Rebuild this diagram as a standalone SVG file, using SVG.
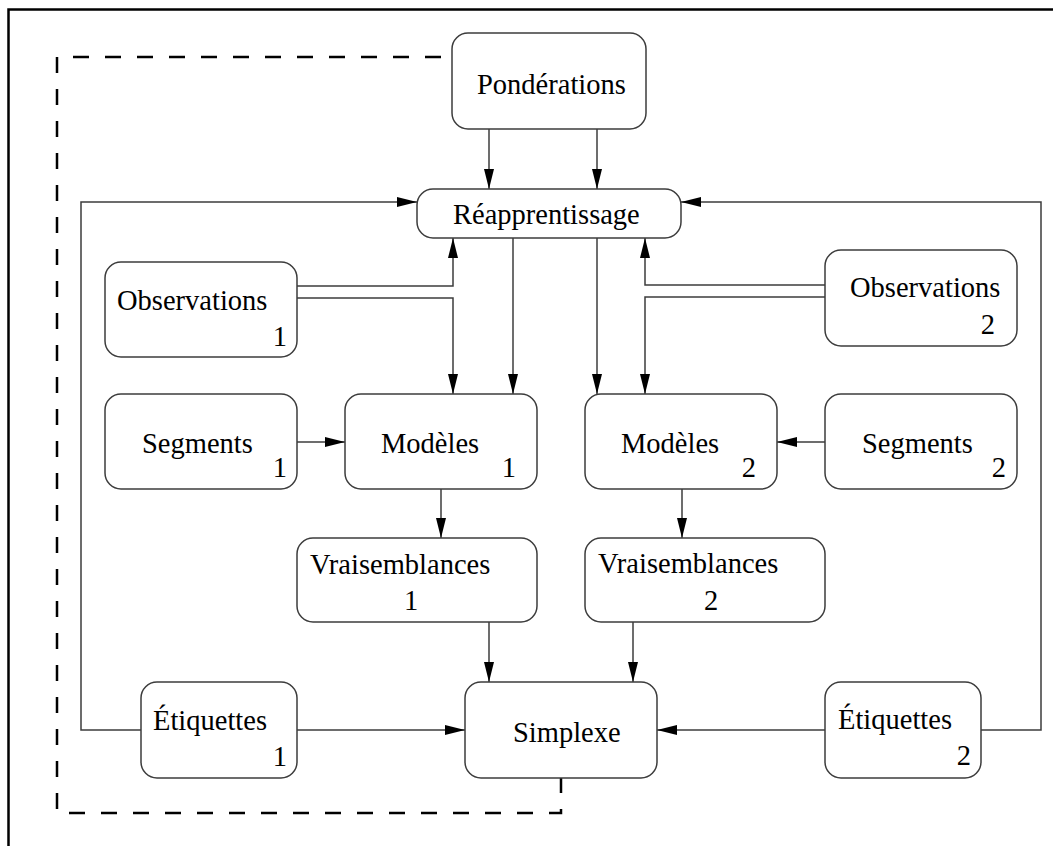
<svg xmlns="http://www.w3.org/2000/svg" width="1053" height="846" viewBox="0 0 1053 846">
<defs>
<style>
.box{fill:#fff;stroke:#3c3c3c;stroke-width:1.5}
.lbl{font-family:"Liberation Serif","Times New Roman",serif;font-size:28.5px;fill:#000}
.num{font-family:"Liberation Serif","Times New Roman",serif;font-size:28.5px;fill:#000;text-anchor:end}
.ln{fill:none;stroke:#3c3c3c;stroke-width:1.5}
.arr{marker-end:url(#ah)}
.dash{fill:none;stroke:#000;stroke-width:2.5;stroke-dasharray:16 16}
</style>
<marker id="ah" markerUnits="userSpaceOnUse" markerWidth="22" markerHeight="12" refX="20" refY="5" orient="auto">
<path d="M0,0 L20,5 L0,10 z" fill="#000"/>
</marker>
</defs>
<rect width="1053" height="846" fill="#fff"/>
<path d="M8.5,846 V9.5 H1053" fill="none" stroke="#000" stroke-width="2.5"/>

<g id="connectors">
<path class="dash" d="M441,57 H57 V813 H561 V778"/>
<path class="ln arr" d="M489,129 V189"/>
<path class="ln arr" d="M597,129 V189"/>
<path class="ln arr" d="M141,730 H81 V202 H417"/>
<path class="ln arr" d="M981,730 H1041 V202 H681"/>
<path class="ln arr" d="M297,286 H453 V238"/>
<path class="ln arr" d="M297,298 H453 V394"/>
<path class="ln arr" d="M513,238 V394"/>
<path class="ln arr" d="M597,238 V394"/>
<path class="ln arr" d="M825,285 H645 V238"/>
<path class="ln arr" d="M825,297 H645 V394"/>
<path class="ln arr" d="M297,442 H345"/>
<path class="ln arr" d="M825,442 H777"/>
<path class="ln arr" d="M441,489 V538"/>
<path class="ln arr" d="M682,489 V538"/>
<path class="ln arr" d="M489,622 V682"/>
<path class="ln arr" d="M633,622 V682"/>
<path class="ln arr" d="M297,730 H465"/>
<path class="ln arr" d="M825,730 H657"/>
</g>

<g id="ponderations">
<rect class="box" x="452" y="33" width="194" height="96" rx="16"/>
<text class="lbl" x="477" y="94">Pondérations</text>
</g>
<g id="reapprentissage">
<rect class="box" x="417" y="189" width="264" height="49" rx="16"/>
<text class="lbl" x="453" y="224">Réapprentissage</text>
</g>
<g id="observations1">
<rect class="box" x="105" y="262" width="192" height="95" rx="16"/>
<text class="lbl" x="117" y="310">Observations</text>
<text class="num" x="287" y="346">1</text>
</g>
<g id="observations2">
<rect class="box" x="825" y="250" width="192" height="96" rx="16"/>
<text class="lbl" x="850" y="297">Observations</text>
<text class="num" x="995" y="334">2</text>
</g>
<g id="segments1">
<rect class="box" x="105" y="394" width="192" height="95" rx="16"/>
<text class="lbl" x="142" y="453">Segments</text>
<text class="num" x="287" y="477">1</text>
</g>
<g id="modeles1">
<rect class="box" x="345" y="394" width="192" height="95" rx="16"/>
<text class="lbl" x="381" y="453">Modèles</text>
<text class="num" x="516" y="477">1</text>
</g>
<g id="modeles2">
<rect class="box" x="585" y="394" width="192" height="95" rx="16"/>
<text class="lbl" x="621" y="453">Modèles</text>
<text class="num" x="756" y="477">2</text>
</g>
<g id="segments2">
<rect class="box" x="825" y="394" width="192" height="95" rx="16"/>
<text class="lbl" x="862" y="453">Segments</text>
<text class="num" x="1006" y="477">2</text>
</g>
<g id="vraisemblances1">
<rect class="box" x="297" y="538" width="240" height="84" rx="16"/>
<text class="lbl" x="310" y="574">Vraisemblances</text>
<text class="lbl" x="404" y="610">1</text>
</g>
<g id="vraisemblances2">
<rect class="box" x="585" y="538" width="240" height="84" rx="16"/>
<text class="lbl" x="598" y="573">Vraisemblances</text>
<text class="lbl" x="704" y="610">2</text>
</g>
<g id="etiquettes1">
<rect class="box" x="141" y="682" width="156" height="96" rx="16"/>
<text class="lbl" x="153" y="730">Étiquettes</text>
<text class="num" x="287" y="766">1</text>
</g>
<g id="simplexe">
<rect class="box" x="465" y="682" width="192" height="96" rx="16"/>
<text class="lbl" x="513" y="742">Simplexe</text>
</g>
<g id="etiquettes2">
<rect class="box" x="825" y="682" width="156" height="96" rx="16"/>
<text class="lbl" x="838" y="729">Étiquettes</text>
<text class="num" x="971" y="765">2</text>
</g>
</svg>
